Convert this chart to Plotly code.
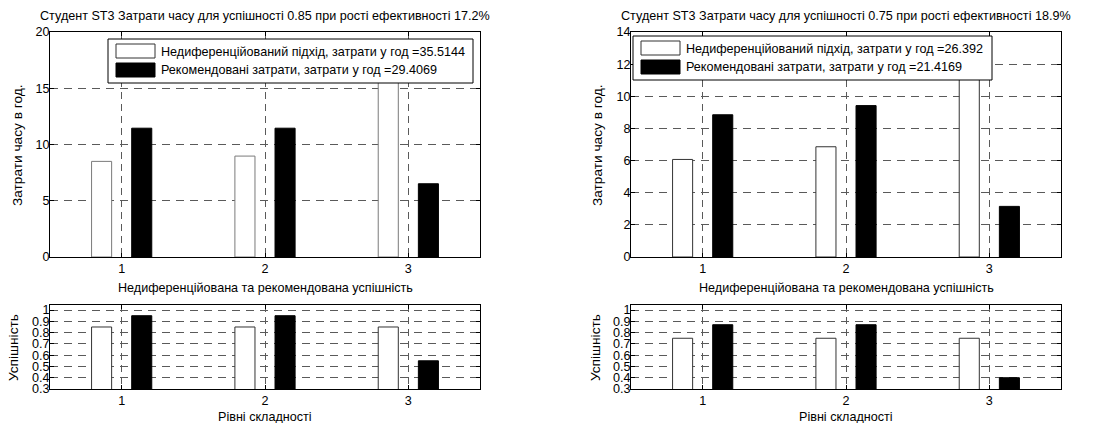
import plotly.graph_objects as go

# ---------------- data ----------------
levels = [1, 2, 3]

# left panel (success 0.85)
left_cost_undiff = [8.5, 8.97, 18.04]
left_cost_rec = [11.45, 11.45, 6.51]
left_succ_undiff = [0.85, 0.85, 0.85]
left_succ_rec = [0.95, 0.95, 0.55]
left_title = "Студент ST3 Затрати часу для успішності 0.85 при рості ефективності 17.2%"
left_legend = ["Недиференційований підхід, затрати у год =35.5144",
               "Рекомендовані затрати, затрати у год =29.4069"]

# right panel (success 0.75)
right_cost_undiff = [6.07, 6.86, 13.46]
right_cost_rec = [8.85, 9.42, 3.15]
right_succ_undiff = [0.75, 0.75, 0.75]
right_succ_rec = [0.87, 0.87, 0.40]
right_title = "Студент ST3 Затрати часу для успішності 0.75 при рості ефективності 18.9%"
right_legend = ["Недиференційований підхід, затрати у год =26.392",
                "Рекомендовані затрати, затрати у год =21.4169"]

top_xlabel = "Недиференційована та рекомендована успішність"
top_ylabel = "Затрати часу в год."
bot_xlabel = "Рівні складності"
bot_ylabel = "Успішність"

left_yticks = [0, 5, 10, 15, 20]
right_yticks = [0, 2, 4, 6, 8, 10, 12, 14]
succ_ticks = [0.3, 0.4, 0.5, 0.6, 0.7, 0.8, 0.9, 1.0]
succ_ticktext = ["0.3", "0.4", "0.5", "0.6", "0.7", "0.8", "0.9", "1"]

# ---------------- layout helpers ----------------
W, H = 1100, 423
FONT = "Liberation Sans, Arial, sans-serif"
FS = 12.6
FS_Y = 13.7


def px(x):
    return x / W


def py(y):
    return 1 - y / H


fig = go.Figure()

panels = [
    dict(x0=50, x1=480, ytl=18, ybl=13,
         cu=left_cost_undiff, cr=left_cost_rec, su=left_succ_undiff, sr=left_succ_rec,
         edge="#7a7a7a", yr=[0, 20], yt=left_yticks, title=left_title, leg=left_legend,
         lbox=(108, 39, 473, 83)),
    dict(x0=631, x1=1061, ytl=598, ybl=595,
         cu=right_cost_undiff, cr=right_cost_rec, su=right_succ_undiff, sr=right_succ_rec,
         edge="#333333", yr=[0, 14], yt=right_yticks, title=right_title, leg=right_legend,
         lbox=(633, 36, 992, 80)),
]
axis_ids = [("x", "y", "x3", "y3"), ("x2", "y2", "x4", "y4")]

BW = 0.14
for p, (xa, ya, xb, yb) in zip(panels, axis_ids):
    # top: cost bars
    fig.add_trace(go.Bar(x=levels, y=p["cu"], width=BW, offset=-0.21,
                         marker=dict(color="white", line=dict(color=p["edge"], width=1)),
                         xaxis=xa, yaxis=ya, showlegend=False, name=p["leg"][0]))
    fig.add_trace(go.Bar(x=levels, y=p["cr"], width=BW, offset=0.07,
                         marker=dict(color="black", line=dict(color="black", width=1)),
                         xaxis=xa, yaxis=ya, showlegend=False, name=p["leg"][1]))
    # bottom: success bars
    fig.add_trace(go.Bar(x=levels, y=p["su"], width=BW, offset=-0.21,
                         marker=dict(color="white", line=dict(color="#333333", width=1)),
                         xaxis=xb, yaxis=yb, showlegend=False))
    fig.add_trace(go.Bar(x=levels, y=p["sr"], width=BW, offset=0.07,
                         marker=dict(color="black", line=dict(color="black", width=1)),
                         xaxis=xb, yaxis=yb, showlegend=False))

axis_common = dict(showline=True, linecolor="black", linewidth=1, mirror="ticks",
                   ticks="inside", ticklen=4, tickcolor="black", zeroline=False,
                   showgrid=True, gridcolor="#5a5a5a", gridwidth=1, automargin=False,
                   tickfont=dict(family=FONT, size=FS, color="black"))

top_dom = [py(257), py(32)]
bot_dom = [py(389), py(305)]

layout = dict(width=W, height=H, margin=dict(l=0, r=0, t=0, b=0, autoexpand=False),
              paper_bgcolor="white", plot_bgcolor="white", barmode="overlay",
              showlegend=False,
              font=dict(family=FONT, size=FS, color="black"))

names = [("xaxis", "yaxis", "xaxis3", "yaxis3", "y", "x", "y3", "x3"),
         ("xaxis2", "yaxis2", "xaxis4", "yaxis4", "y2", "x2", "y4", "x4")]
for p, (xk, yk, xbk, ybk, ya, xa, yb, xb) in zip(panels, names):
    dom = [px(p["x0"]), px(p["x1"])]
    layout[xk] = dict(axis_common, domain=dom, anchor=ya, range=[0.5, 3.5],
                      tickvals=levels, griddash="7px,5px")
    layout[yk] = dict(axis_common, domain=top_dom, anchor=xa, range=p["yr"],
                      tickvals=p["yt"], griddash="8px,6px", ticklabelstandoff=-3)
    layout[xbk] = dict(axis_common, domain=dom, anchor=yb, range=[0.5, 3.5],
                       tickvals=levels, griddash="7px,5px")
    layout[ybk] = dict(axis_common, domain=bot_dom, anchor=xb, range=[0.3, 1.045],
                       tickvals=succ_ticks, ticktext=succ_ticktext, griddash="8px,6px",
                       ticklabelstandoff=-3)

fig.update_layout(**layout)

shapes = []
annotations = []


def label(text, x, y, angle=0, anchor="center", size=FS):
    annotations.append(dict(text=text, x=px(x), y=py(y), xref="paper", yref="paper",
                            showarrow=False, xanchor=anchor, yanchor="middle",
                            textangle=angle,
                            font=dict(family=FONT, size=size, color="black")))


for p in panels:
    cx = (p["x0"] + p["x1"]) / 2
    label(p["title"], cx, 16)
    label(top_xlabel, cx, 288)
    label(bot_xlabel, cx, 417)
    label(top_ylabel, p["ytl"], 145, angle=-90, size=FS_Y)
    label(bot_ylabel, p["ybl"], 348, angle=-90, size=FS_Y)
    # custom legend box
    bx0, by0, bx1, by1 = p["lbox"]
    shapes.append(dict(type="rect", xref="paper", yref="paper",
                       x0=px(bx0), x1=px(bx1), y0=py(by1), y1=py(by0),
                       fillcolor="white", line=dict(color="black", width=1), layer="above"))
    rows = [(by0 + 5, by0 + 19, "white", "#333333"), (by0 + 24, by0 + 38, "black", "black")]
    for (ty, byy, fill, lc), text in zip(rows, p["leg"]):
        shapes.append(dict(type="rect", xref="paper", yref="paper",
                           x0=px(bx0 + 8), x1=px(bx0 + 47), y0=py(byy), y1=py(ty),
                           fillcolor=fill, line=dict(color=lc, width=1), layer="above"))
        label(text, bx0 + 51, (ty + byy) / 2 + 0.5, anchor="left", size=FS)

fig.update_layout(shapes=shapes, annotations=annotations)

fig.write_html("out.html", config={"displayModeBar": False},
               post_script="document.body.style.margin='0';document.body.style.padding='0';"
                           "document.body.style.overflow='hidden';")
